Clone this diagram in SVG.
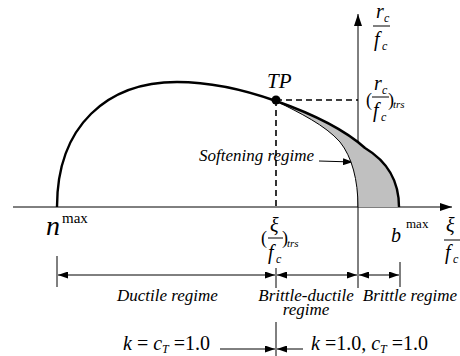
<svg xmlns="http://www.w3.org/2000/svg" width="460" height="356" viewBox="0 0 460 356">
<defs>
<marker id="ah" viewBox="0 0 10 7" refX="10" refY="3.5" markerWidth="10" markerHeight="7" markerUnits="userSpaceOnUse" orient="auto-start-reverse">
<path d="M0,0 L10,3.5 L0,7 z" fill="#000"/>
</marker>
<marker id="axh" viewBox="0 0 12 8" refX="12" refY="4" markerWidth="12" markerHeight="8" markerUnits="userSpaceOnUse" orient="auto">
<path d="M0,0 L12,4 L0,8 z" fill="#000"/>
</marker>
</defs>
<style>
.it{font-style:italic}
.lbl{font-size:17px;font-style:italic}
.ax{font-size:20px;font-style:italic}
.sub{font-size:12px;font-style:italic}
.thin{stroke:#000;stroke-width:1;fill:none}
.dash{stroke:#000;stroke-width:1.6;fill:none;stroke-dasharray:6,4}
</style>
<rect width="460" height="356" fill="#fff"/>

<g id="connectors">
<line x1="13" y1="207" x2="452" y2="207" class="thin" stroke-width="1.3" marker-end="url(#axh)"/>
<line x1="358" y1="288" x2="358" y2="14" class="thin" stroke-width="1.3" marker-end="url(#axh)"/>
<line x1="276" y1="100" x2="358" y2="100" class="dash"/>
<line x1="276" y1="100" x2="276" y2="207" class="dash"/>
<line x1="57" y1="256" x2="57" y2="287" class="thin"/>
<line x1="276" y1="268" x2="276" y2="288" class="thin"/>
<line x1="400" y1="262" x2="400" y2="287" class="thin"/>
<line x1="58" y1="275" x2="275" y2="275" class="thin" marker-start="url(#ah)" marker-end="url(#ah)"/>
<line x1="277" y1="275" x2="357" y2="275" class="thin" marker-start="url(#ah)" marker-end="url(#ah)"/>
<line x1="359" y1="275" x2="399" y2="275" class="thin" marker-start="url(#ah)" marker-end="url(#ah)"/>
<line x1="276" y1="322" x2="276" y2="356" class="thin"/>
<line x1="220" y1="349" x2="275" y2="349" class="thin" marker-end="url(#ah)"/>
<line x1="303" y1="349" x2="277" y2="349" class="thin" marker-end="url(#ah)"/>
<line x1="319" y1="161" x2="353" y2="162" class="thin" marker-end="url(#ah)"/>
</g>

<g id="softening-region">
<path d="M276,101 C310,113 345,130 365,148 C390,163 399,183 399,207 L358,207 C358,180 352,157 340,142 C325,125 300,113 276,101 Z" fill="#c0c0c0" stroke="none"/>
<path d="M276,101 C300,113 325,125 340,142 C352,157 358,180 358,207" class="thin"/>
</g>

<g id="failure-curve">
<path d="M57,207 C57,125 108,82 177,82 C210,82 245,90 276,101 C310,113 345,130 365,148 C390,163 399,183 399,207" fill="none" stroke="#000" stroke-width="2.4"/>
</g>

<g id="tp">
<circle cx="276" cy="100" r="4.5" fill="#000"/>
<text x="267" y="88" font-family="Liberation Serif, serif" class="it" font-size="21">TP</text>
</g>

<g id="label-softening">
<text x="199" y="161" font-family="Liberation Serif, serif" class="lbl">Softening regime</text>
</g>

<g id="axis-y-label">
<text x="376" y="18" font-family="Liberation Serif, serif" class="ax">r</text>
<text x="384" y="22" font-family="Liberation Serif, serif" class="sub">c</text>
<line x1="373" y1="26" x2="390" y2="26" stroke="#000" stroke-width="1"/>
<text x="374" y="46" font-family="Liberation Serif, serif" class="ax">f</text>
<text x="382" y="50" font-family="Liberation Serif, serif" class="sub">c</text>
</g>

<g id="label-rc-trs">
<text x="366" y="106" font-family="Liberation Serif, serif" font-size="18">(</text>
<text x="374" y="90" font-family="Liberation Serif, serif" class="ax">r</text>
<text x="382" y="94" font-family="Liberation Serif, serif" class="sub">c</text>
<line x1="372" y1="97" x2="389" y2="97" stroke="#000" stroke-width="1"/>
<text x="373" y="117" font-family="Liberation Serif, serif" class="ax">f</text>
<text x="381" y="121" font-family="Liberation Serif, serif" class="sub">c</text>
<text x="388" y="106" font-family="Liberation Serif, serif" font-size="18">)</text>
<text x="393" y="108" font-family="Liberation Serif, serif" class="it" font-size="11">trs</text>
</g>

<g id="label-nmax">
<text x="46" y="235" font-family="Liberation Serif, serif" class="it" font-size="28">n</text>
<text x="62" y="223" font-family="Liberation Serif, serif" font-size="15">max</text>
</g>

<g id="label-bmax">
<text x="391" y="242" font-family="Liberation Serif, serif" class="ax">b</text>
<text x="406" y="228" font-family="Liberation Serif, serif" font-size="13">max</text>
</g>

<g id="label-xi-trs">
<text x="261" y="244" font-family="Liberation Serif, serif" font-size="18">(</text>
<text x="270" y="232" font-family="Liberation Serif, serif" class="ax">ξ</text>
<line x1="268" y1="238" x2="283" y2="238" stroke="#000" stroke-width="1"/>
<text x="268" y="259" font-family="Liberation Serif, serif" class="ax">f</text>
<text x="276" y="263" font-family="Liberation Serif, serif" class="sub">c</text>
<text x="282" y="244" font-family="Liberation Serif, serif" font-size="18">)</text>
<text x="287" y="247" font-family="Liberation Serif, serif" class="it" font-size="11">trs</text>
</g>

<g id="axis-x-label">
<text x="446" y="232" font-family="Liberation Serif, serif" class="ax">ξ</text>
<line x1="444" y1="240" x2="460" y2="240" stroke="#000" stroke-width="1"/>
<text x="445" y="259" font-family="Liberation Serif, serif" class="ax">f</text>
<text x="453" y="263" font-family="Liberation Serif, serif" class="sub">c</text>
</g>

<g id="regime-labels">
<text x="117" y="301" font-family="Liberation Serif, serif" class="lbl">Ductile regime</text>
<text x="306" y="301" font-family="Liberation Serif, serif" class="lbl" text-anchor="middle">Brittle-ductile</text>
<text x="306" y="315" font-family="Liberation Serif, serif" class="lbl" text-anchor="middle">regime</text>
<text x="410" y="301" font-family="Liberation Serif, serif" class="lbl" text-anchor="middle">Brittle regime</text>
</g>

<g id="condition-labels">
<text x="123" y="350" font-family="Liberation Serif, serif" font-size="20"><tspan class="it">k</tspan> = <tspan class="it">c</tspan><tspan class="it" font-size="12" dy="3">T</tspan><tspan dy="-3"> =1.0</tspan></text>
<text x="311" y="350" font-family="Liberation Serif, serif" font-size="20"><tspan class="it">k</tspan> =1.0,  <tspan class="it">c</tspan><tspan class="it" font-size="12" dy="3">T</tspan><tspan dy="-3"> =1.0</tspan></text>
</g>
</svg>
